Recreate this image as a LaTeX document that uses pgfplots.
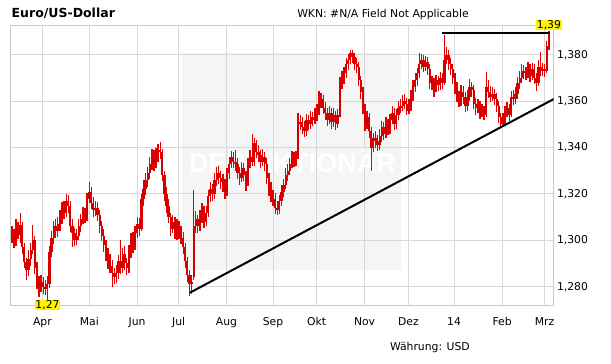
\documentclass[border=0pt]{standalone}
\usepackage{pgfplots}
\pgfplotsset{compat=1.18}
\usepackage{pgfplotstable}
\usepackage{fontspec}
\setmainfont{DejaVu Sans}
\newfontfamily\wmfont{Liberation Sans}
\definecolor{barred}{RGB}{212,0,0}
\definecolor{wickred}{RGB}{228,0,0}
\definecolor{gridc}{RGB}{216,216,216}
\definecolor{framec}{RGB}{200,200,200}
\definecolor{wmgray}{RGB}{245,245,245}

\pgfplotstableread{
i o h l c
0 1.3010 1.3060 1.2990 1.3030
1 1.3030 1.3050 1.2965 1.3005
2 1.3005 1.3090 1.2975 1.3050
3 1.3050 1.3080 1.3005 1.3025
4 1.3025 1.3118 1.2990 1.3065
5 1.3065 1.3080 1.2940 1.2970
6 1.2970 1.2990 1.2880 1.2905
7 1.2905 1.2925 1.2830 1.2870
8 1.2870 1.2960 1.2845 1.2920
9 1.2920 1.2990 1.2890 1.2960
10 1.2960 1.3066 1.2940 1.3000
11 1.3000 1.3020 1.2855 1.2880
12 1.2880 1.2905 1.2790 1.2820
13 1.2820 1.2845 1.2755 1.2800
14 1.2800 1.2850 1.2775 1.2820
15 1.2820 1.2840 1.2770 1.2800
16 1.2800 1.2830 1.2765 1.2790
17 1.2790 1.2845 1.2744 1.2810
18 1.2810 1.2975 1.2795 1.2950
19 1.2950 1.3040 1.2930 1.3010
20 1.3010 1.3085 1.2985 1.3060
21 1.3060 1.3090 1.3010 1.3040
22 1.3040 1.3100 1.3015 1.3070
23 1.3070 1.3130 1.3040 1.3100
24 1.3100 1.3165 1.3070 1.3140
25 1.3140 1.3170 1.3090 1.3120
26 1.3120 1.3198 1.3100 1.3170
27 1.3170 1.3195 1.3120 1.3150
28 1.3150 1.3170 1.3035 1.3060
29 1.3060 1.3090 1.2970 1.3030
30 1.3030 1.3055 1.2975 1.3000
31 1.3000 1.3050 1.2980 1.3020
32 1.3020 1.3090 1.3000 1.3060
33 1.3060 1.3115 1.3035 1.3090
34 1.3090 1.3145 1.3070 1.3110
35 1.3110 1.3140 1.3075 1.3100
36 1.3100 1.3205 1.3085 1.3180
37 1.3180 1.3251 1.3160 1.3210
38 1.3210 1.3230 1.3135 1.3160
39 1.3160 1.3185 1.3100 1.3130
40 1.3130 1.3170 1.3105 1.3140
41 1.3140 1.3165 1.3085 1.3110
42 1.3110 1.3130 1.3030 1.3060
43 1.3060 1.3085 1.2995 1.3020
44 1.3020 1.3050 1.2950 1.2980
45 1.2980 1.3000 1.2910 1.2940
46 1.2940 1.2965 1.2875 1.2910
47 1.2910 1.2940 1.2860 1.2890
48 1.2890 1.2915 1.2797 1.2860
49 1.2860 1.2880 1.2810 1.2840
50 1.2840 1.2895 1.2815 1.2860
51 1.2860 1.2935 1.2835 1.2910
52 1.2910 1.3000 1.2855 1.2880
53 1.2880 1.2965 1.2860 1.2940
54 1.2940 1.2975 1.2870 1.2900
55 1.2900 1.2925 1.2850 1.2880
56 1.2880 1.2980 1.2860 1.2950
57 1.2950 1.3030 1.2925 1.3000
58 1.3000 1.3035 1.2945 1.2980
59 1.2980 1.3060 1.2960 1.3030
60 1.3030 1.3100 1.3010 1.3070
61 1.3070 1.3095 1.3020 1.3050
62 1.3050 1.3200 1.3040 1.3180
63 1.3180 1.3260 1.3150 1.3220
64 1.3220 1.3290 1.3195 1.3260
65 1.3260 1.3315 1.3230 1.3290
66 1.3290 1.3360 1.3265 1.3330
67 1.3330 1.3395 1.3305 1.3360
68 1.3360 1.3390 1.3300 1.3330
69 1.3330 1.3400 1.3310 1.3370
70 1.3370 1.3415 1.3340 1.3390
71 1.3390 1.3426 1.3350 1.3380
72 1.3380 1.3395 1.3255 1.3280
73 1.3280 1.3300 1.3170 1.3200
74 1.3200 1.3230 1.3120 1.3150
75 1.3150 1.3180 1.3075 1.3100
76 1.3100 1.3120 1.3020 1.3050
77 1.3050 1.3110 1.3030 1.3080
78 1.3080 1.3100 1.3005 1.3030
79 1.3030 1.3090 1.3000 1.3060
80 1.3060 1.3085 1.3005 1.3030
81 1.3030 1.3060 1.2985 1.3010
82 1.3010 1.3035 1.2940 1.2970
83 1.2970 1.2990 1.2880 1.2910
84 1.2910 1.2930 1.2820 1.2850
85 1.2850 1.2870 1.2758 1.2810
86 1.2810 1.2850 1.2770 1.2820
87 1.2840 1.3215 1.2830 1.3060
88 1.3060 1.3125 1.3030 1.3090
89 1.3090 1.3110 1.3030 1.3060
90 1.3060 1.3130 1.3040 1.3100
91 1.3100 1.3160 1.3075 1.3130
92 1.3130 1.3150 1.3055 1.3080
93 1.3080 1.3150 1.3060 1.3120
94 1.3120 1.3215 1.3100 1.3190
95 1.3190 1.3250 1.3165 1.3220
96 1.3220 1.3245 1.3170 1.3200
97 1.3200 1.3290 1.3180 1.3260
98 1.3260 1.3315 1.3235 1.3290
99 1.3290 1.3320 1.3245 1.3270
100 1.3270 1.3300 1.3220 1.3250
101 1.3250 1.3285 1.3210 1.3240
102 1.3240 1.3265 1.3180 1.3210
103 1.3210 1.3310 1.3190 1.3290
104 1.3290 1.3360 1.3265 1.3330
105 1.3330 1.3385 1.3310 1.3360
106 1.3360 1.3380 1.3310 1.3340
107 1.3340 1.3390 1.3300 1.3330
108 1.3330 1.3355 1.3265 1.3290
109 1.3290 1.3315 1.3240 1.3270
110 1.3270 1.3340 1.3250 1.3310
111 1.3310 1.3335 1.3255 1.3280
112 1.3280 1.3300 1.3213 1.3250
113 1.3250 1.3355 1.3235 1.3330
114 1.3330 1.3390 1.3310 1.3360
115 1.3360 1.3459 1.3320 1.3340
116 1.3340 1.3440 1.3320 1.3420
117 1.3420 1.3435 1.3355 1.3380
118 1.3380 1.3410 1.3340 1.3370
119 1.3370 1.3390 1.3310 1.3340
120 1.3340 1.3395 1.3320 1.3360
121 1.3360 1.3380 1.3300 1.3330
122 1.3330 1.3355 1.3245 1.3270
123 1.3270 1.3290 1.3190 1.3220
124 1.3220 1.3250 1.3165 1.3190
125 1.3190 1.3215 1.3150 1.3180
126 1.3180 1.3205 1.3115 1.3140
127 1.3140 1.3170 1.3110 1.3130
128 1.3130 1.3195 1.3115 1.3170
129 1.3170 1.3240 1.3150 1.3210
130 1.3210 1.3265 1.3185 1.3240
131 1.3240 1.3310 1.3220 1.3280
132 1.3280 1.3330 1.3255 1.3300
133 1.3300 1.3355 1.3280 1.3330
134 1.3330 1.3385 1.3310 1.3360
135 1.3360 1.3380 1.3315 1.3340
136 1.3340 1.3385 1.3320 1.3360
137 1.3360 1.3548 1.3350 1.3500
138 1.3500 1.3540 1.3475 1.3510
139 1.3510 1.3530 1.3460 1.3490
140 1.3490 1.3515 1.3445 1.3470
141 1.3470 1.3545 1.3450 1.3520
142 1.3520 1.3540 1.3475 1.3500
143 1.3500 1.3560 1.3480 1.3530
144 1.3530 1.3555 1.3495 1.3520
145 1.3520 1.3570 1.3500 1.3540
146 1.3540 1.3590 1.3515 1.3560
147 1.3560 1.3643 1.3540 1.3590
148 1.3590 1.3635 1.3570 1.3610
149 1.3610 1.3625 1.3545 1.3570
150 1.3570 1.3595 1.3520 1.3550
151 1.3550 1.3570 1.3495 1.3520
152 1.3520 1.3580 1.3500 1.3550
153 1.3550 1.3570 1.3480 1.3510
154 1.3510 1.3570 1.3490 1.3540
155 1.3540 1.3560 1.3475 1.3500
156 1.3500 1.3565 1.3485 1.3540
157 1.3540 1.3705 1.3530 1.3680
158 1.3680 1.3730 1.3655 1.3700
159 1.3700 1.3750 1.3675 1.3720
160 1.3720 1.3785 1.3700 1.3760
161 1.3760 1.3805 1.3735 1.3780
162 1.3780 1.3823 1.3760 1.3810
163 1.3810 1.3820 1.3765 1.3790
164 1.3790 1.3810 1.3735 1.3760
165 1.3760 1.3785 1.3720 1.3750
166 1.3750 1.3770 1.3665 1.3690
167 1.3690 1.3710 1.3610 1.3640
168 1.3640 1.3660 1.3545 1.3570
169 1.3570 1.3590 1.3470 1.3500
170 1.3500 1.3560 1.3480 1.3530
171 1.3530 1.3550 1.3440 1.3470
172 1.3470 1.3490 1.3300 1.3400
173 1.3400 1.3465 1.3380 1.3440
174 1.3440 1.3470 1.3400 1.3430
175 1.3430 1.3455 1.3386 1.3410
176 1.3410 1.3480 1.3390 1.3450
177 1.3450 1.3515 1.3425 1.3490
178 1.3490 1.3510 1.3435 1.3460
179 1.3460 1.3530 1.3440 1.3500
180 1.3500 1.3525 1.3455 1.3480
181 1.3480 1.3545 1.3460 1.3520
182 1.3520 1.3580 1.3500 1.3550
183 1.3550 1.3570 1.3475 1.3500
184 1.3500 1.3565 1.3480 1.3540
185 1.3540 1.3600 1.3520 1.3570
186 1.3570 1.3610 1.3550 1.3580
187 1.3580 1.3625 1.3560 1.3600
188 1.3600 1.3630 1.3565 1.3590
189 1.3590 1.3615 1.3540 1.3560
190 1.3560 1.3610 1.3545 1.3580
191 1.3580 1.3650 1.3560 1.3620
192 1.3620 1.3690 1.3600 1.3660
193 1.3660 1.3720 1.3640 1.3690
194 1.3690 1.3745 1.3665 1.3720
195 1.3720 1.3807 1.3700 1.3760
196 1.3760 1.3805 1.3740 1.3780
197 1.3780 1.3800 1.3725 1.3750
198 1.3750 1.3795 1.3730 1.3770
199 1.3770 1.3790 1.3715 1.3740
200 1.3740 1.3760 1.3655 1.3680
201 1.3690 1.3710 1.3650 1.3680
202 1.3680 1.3700 1.3620 1.3660
203 1.3660 1.3715 1.3640 1.3690
204 1.3690 1.3710 1.3645 1.3670
205 1.3670 1.3725 1.3650 1.3700
206 1.3700 1.3720 1.3655 1.3680
207 1.3680 1.3886 1.3670 1.3780
208 1.3780 1.3835 1.3760 1.3800
209 1.3800 1.3820 1.3735 1.3760
210 1.3760 1.3785 1.3715 1.3740
211 1.3740 1.3760 1.3675 1.3700
212 1.3700 1.3720 1.3630 1.3660
213 1.3660 1.3685 1.3595 1.3620
214 1.3620 1.3645 1.3575 1.3600
215 1.3600 1.3670 1.3580 1.3640
216 1.3640 1.3665 1.3590 1.3620
217 1.3620 1.3640 1.3555 1.3580
218 1.3580 1.3650 1.3560 1.3620
219 1.3620 1.3694 1.3600 1.3660
220 1.3660 1.3685 1.3620 1.3650
221 1.3650 1.3670 1.3565 1.3590
222 1.3590 1.3615 1.3540 1.3570
223 1.3570 1.3610 1.3550 1.3580
224 1.3580 1.3600 1.3525 1.3550
225 1.3550 1.3590 1.3530 1.3560
226 1.3560 1.3580 1.3520 1.3540
227 1.3540 1.3728 1.3530 1.3660
228 1.3660 1.3690 1.3615 1.3640
229 1.3640 1.3665 1.3595 1.3620
230 1.3620 1.3660 1.3600 1.3630
231 1.3630 1.3655 1.3585 1.3610
232 1.3610 1.3635 1.3555 1.3580
233 1.3580 1.3600 1.3505 1.3530
234 1.3530 1.3550 1.3486 1.3500
235 1.3500 1.3550 1.3490 1.3520
236 1.3520 1.3580 1.3500 1.3550
237 1.3550 1.3595 1.3530 1.3570
238 1.3570 1.3590 1.3515 1.3540
239 1.3540 1.3645 1.3530 1.3620
240 1.3620 1.3650 1.3585 1.3610
241 1.3610 1.3660 1.3590 1.3630
242 1.3630 1.3705 1.3610 1.3680
243 1.3680 1.3730 1.3655 1.3700
244 1.3700 1.3760 1.3680 1.3730
245 1.3730 1.3755 1.3695 1.3720
246 1.3710 1.3750 1.3690 1.3720
247 1.3720 1.3770 1.3700 1.3740
248 1.3740 1.3760 1.3685 1.3710
249 1.3710 1.3765 1.3690 1.3740
250 1.3740 1.3760 1.3675 1.3700
251 1.3700 1.3720 1.3643 1.3680
252 1.3680 1.3780 1.3665 1.3750
253 1.3750 1.3814 1.3710 1.3730
254 1.3730 1.3765 1.3710 1.3740
255 1.3740 1.3760 1.3705 1.3730
256 1.3730 1.3860 1.3720 1.3840
257 1.3840 1.3905 1.3820 1.3860
}\data

\begin{document}
\begin{tikzpicture}[x=1pt,y=1pt]
\begin{axis}[
  at={(10.6pt,58.8pt)}, anchor=south west,
  width=542.9pt, height=279.7pt, scale only axis,
  xmin=-0.6, xmax=259.2, ymin=1.2720, ymax=1.3927,
  set layers=standard,
  clip mode=individual,
  axis line style={framec, line width=1pt},
  grid=major, major grid style={gridc, line width=1pt},
  major tick length=0pt,
  xtick={14.6,37.1,59.9,79.8,102.7,125,145.8,168.8,189.8,211.6,234.6,254.9},
  xticklabels={Apr,Mai,Jun,Jul,Aug,Sep,Okt,Nov,Dez,14,Feb,Mrz},
  ytick={1.28,1.30,1.32,1.34,1.36,1.38},
  yticklabels={{1,280},{1,300},{1,320},{1,340},{1,360},{1,380}},
  yticklabel pos=right,
  tick label style={font=\fontsize{10.8}{13}\selectfont, text=black},
  xticklabel style={anchor=base, yshift=-20.8pt},
  yticklabel style={anchor=west},
]
\addplot[draw=none, fill=wmgray, on layer=axis background] coordinates {(81.65,1.2872) (186.05,1.2872) (186.05,1.3809) (81.65,1.3809)} -- cycle;
\node[on layer=axis background, text=white, font=\wmfont\bfseries\fontsize{27}{27}\selectfont] at (axis cs:134.3,1.3340) {DER AKTIONÄR};

\addplot[wickred, only marks, mark=*, mark size=0.1pt, mark options={draw opacity=0, fill opacity=0},
  error bars/.cd, y dir=plus, y explicit, error mark=none,
  error bar style={solid, draw=wickred, line width=1.3pt}]
  table[x=i, y=l, y error plus expr=\thisrow{h}-\thisrow{l}] {\data};
\addplot[barred, only marks, mark=*, mark size=0.1pt, mark options={draw opacity=0, fill opacity=0},
  error bars/.cd, y dir=plus, y explicit, error mark=none,
  error bar style={solid, draw=barred, line width=2.2pt}]
  table[x=i, y expr={min(\thisrow{o},\thisrow{c})}, y error plus expr={abs(\thisrow{c}-\thisrow{o})}] {\data};

\addplot[black, line width=2pt] coordinates {(85.2,1.2774) (259.4,1.3610)};
\addplot[black, line width=2pt] coordinates {(206.0,1.3894) (257.6,1.3894)};

\node[fill=yellow, text=black, font=\fontsize{10.8}{13}\selectfont, inner xsep=0.6pt, inner ysep=0.8pt, text height=8pt, text depth=1pt, anchor=south] at (axis cs:257,1.3905) {1,39};
\node[fill=yellow, text=black, font=\fontsize{10.8}{13}\selectfont, inner xsep=0.6pt, inner ysep=0.8pt, text height=8pt, text depth=1pt, anchor=north] at (axis cs:17.06,1.2744) {1,27};
\end{axis}
\node[anchor=base west, inner sep=0, font=\bfseries\fontsize{12.5}{14}\selectfont] at (11.5,346) {Euro/US-Dollar};
\node[anchor=base, inner sep=0, font=\fontsize{10.8}{13}\selectfont] at (383,346) {WKN: \#N/A Field Not Applicable};
\node[anchor=base east, inner sep=0, font=\fontsize{10.8}{13}\selectfont] at (470,13) {Währung: USD};
\pgfresetboundingbox
\path[use as bounding box] (0,0) rectangle (611,364);
\end{tikzpicture}
\end{document}
